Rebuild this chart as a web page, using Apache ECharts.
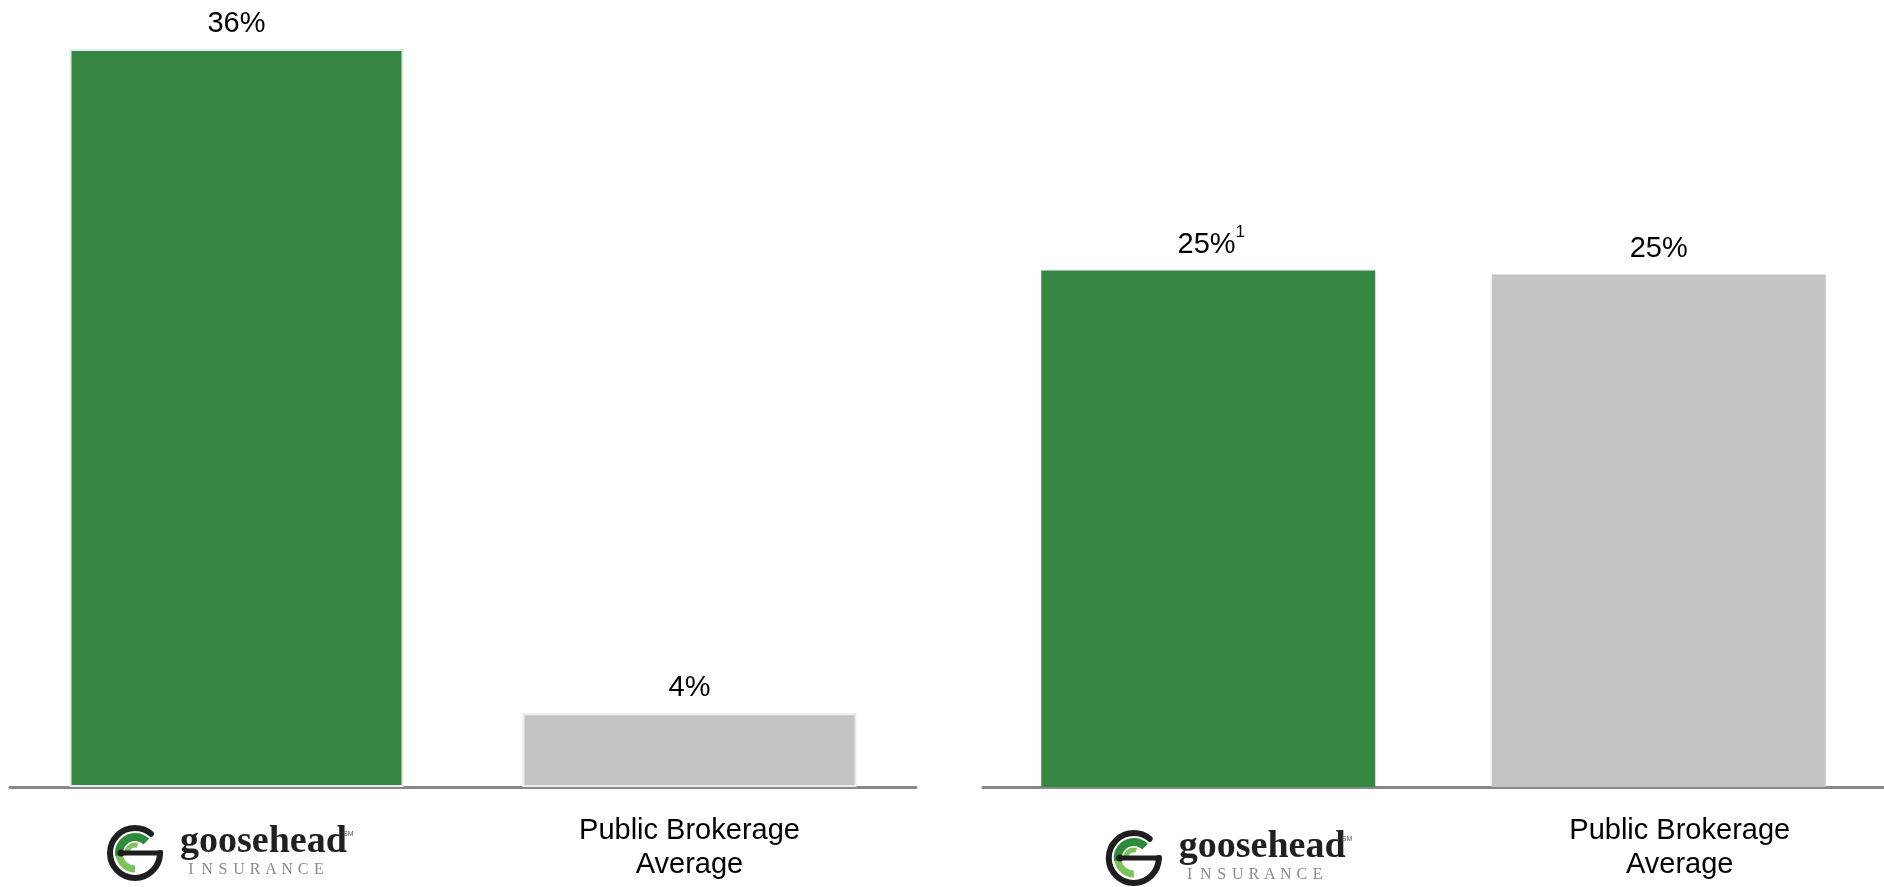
<!DOCTYPE html>
<html>
<head>
<meta charset="utf-8">
<script src="https://cdn.jsdelivr.net/npm/echarts@6/dist/echarts.min.js"></script>
<style>
  html, body { margin: 0; padding: 0; background: #fff; }
  #main { width: 1884px; height: 887px; }
</style>
</head>
<body>
<div id="main"></div>
<script>
// ---- data ----
const categories = ['Goosehead', 'Public Brokerage\nAverage'];
const leftValues = [36, 3.6];
const rightValues = [25.2, 25.0];
const rightFootnotes = ['1', ''];
const barColors = ['#358641', '#c4c4c4'];
const logoWords = ['goosehead', 'INSURANCE', 'SM'];

const chart = echarts.init(document.getElementById('main'));
const FONT = '"Liberation Sans", Arial, sans-serif';

function pct(v) { return Math.round(v) + '%'; }

const labelBase = {
  show: true, position: 'top', distance: 11,
  color: '#000', fontSize: 29, fontFamily: FONT
};

const leftData = leftValues.map((v, i) => ({
  value: v,
  itemStyle: { color: barColors[i], borderColor: '#e6edf1', borderWidth: 2 }
}));
const rightData = rightValues.map((v, i) => ({
  value: v,
  itemStyle: { color: barColors[i] },
  label: rightFootnotes[i] ? { offset: [3, 0] } : {}
}));

const axisLabelBase = {
  interval: 0, color: '#000', fontSize: 29, lineHeight: 34,
  fontFamily: FONT, margin: 27,
  formatter: (v, i) => (i === 0 ? '' : v)
};

const option = {
  animation: false,
  backgroundColor: '#fff',
  grid: [
    { left: 10, width: 906, top: 49, bottom: 100 },
    { left: 983, right: 0, top: 49, bottom: 100 }
  ],
  xAxis: [
    {
      type: 'category', gridIndex: 0, data: categories.slice(),
      axisLine: { show: true, lineStyle: { color: '#888', width: 3 } },
      axisTick: { show: false }, axisLabel: axisLabelBase
    },
    {
      type: 'category', gridIndex: 1,
      data: categories.map((c, i) => i === 1 ? { value: c, textStyle: { padding: [0, 0, 0, 42] } } : c),
      axisLine: { show: true, lineStyle: { color: '#888', width: 3 } },
      axisTick: { show: false }, axisLabel: axisLabelBase
    }
  ],
  yAxis: [
    { type: 'value', gridIndex: 0, min: 0, max: 36, show: false },
    { type: 'value', gridIndex: 1, min: 0, max: 36, show: false }
  ],
  series: [
    {
      type: 'bar', xAxisIndex: 0, yAxisIndex: 0, barWidth: 334,
      data: leftData,
      label: Object.assign({}, labelBase, { formatter: p => pct(p.value) })
    },
    {
      type: 'bar', xAxisIndex: 1, yAxisIndex: 1, barWidth: 334,
      data: rightData,
      label: Object.assign({}, labelBase, {
        formatter: p => {
          const f = rightFootnotes[p.dataIndex];
          return '{a|' + pct(p.value) + '}' + (f ? '{s|' + f + '}' : '');
        },
        rich: {
          a: { fontSize: 29, lineHeight: 29, fontFamily: FONT, color: '#000', verticalAlign: 'bottom' },
          s: { fontSize: 17, lineHeight: 17, fontFamily: FONT, color: '#000', verticalAlign: 'bottom', padding: [0, 0, 19, 0] }
        }
      })
    }
  ]
};
chart.setOption(option);

// ---- logo (drawn next to the Goosehead category of each axis) ----
function logo(x0, y0) {
  const cx = 27, cy = 31;
  const dark = '#1e1e1e';
  return {
    type: 'group', x: x0, y: y0, silent: true,
    children: [
      { type: 'arc', shape: { cx, cy, r: 16, startAngle: Math.PI * 0.95, endAngle: Math.PI * 1.75, clockwise: true },
        style: { stroke: '#2e8b3c', lineWidth: 8, fill: null } },
      { type: 'arc', shape: { cx, cy, r: 16, startAngle: Math.PI * 0.5, endAngle: Math.PI * 0.95, clockwise: true },
        style: { stroke: '#7dc35b', lineWidth: 7, fill: null } },
      { type: 'arc', shape: { cx, cy, r: 8, startAngle: Math.PI * 1.0, endAngle: Math.PI * 1.6, clockwise: true },
        style: { stroke: '#7dc35b', lineWidth: 5, fill: null } },
      { type: 'arc', shape: { cx, cy, r: 25, startAngle: 0, endAngle: Math.PI * 1.72, clockwise: true },
        style: { stroke: dark, lineWidth: 6, fill: null, lineCap: 'round' } },
      { type: 'rect', shape: { x: cx - 16, y: cy - 2.5, width: 44, height: 5 }, style: { fill: dark } },
      { type: 'circle', shape: { cx: cx - 14, cy: cy, r: 3.5 }, style: { fill: dark } },
      { type: 'text', x: 72, y: 33 - 12.5,
        style: { text: logoWords[0], font: 'bold 38px "Liberation Serif", serif', fill: '#231f20', verticalAlign: 'middle', align: 'left' } },
      { type: 'text', x: 235, y: 12,
        style: { text: logoWords[2], font: '7px "Liberation Sans", sans-serif', fill: '#555', verticalAlign: 'middle', align: 'left' } },
      { type: 'text', x: 75, y: 48,
        style: {
          text: logoWords[1].split('').map(c => '{l|' + c + '}').join(''),
          verticalAlign: 'middle', align: 'left',
          rich: { l: { width: 16, align: 'center', fontSize: 16, fontFamily: '"Liberation Serif", serif', fill: '#8a8a8a' } }
        } }
    ]
  };
}

const c0 = chart.convertToPixel({ xAxisIndex: 0 }, categories[0]);
const c1 = chart.convertToPixel({ xAxisIndex: 1 }, categories[0]);
chart.setOption({
  graphic: [logo(c0 - 128.5, 822), logo(c1 - 101.5, 827)]
});
</script>
</body>
</html>
